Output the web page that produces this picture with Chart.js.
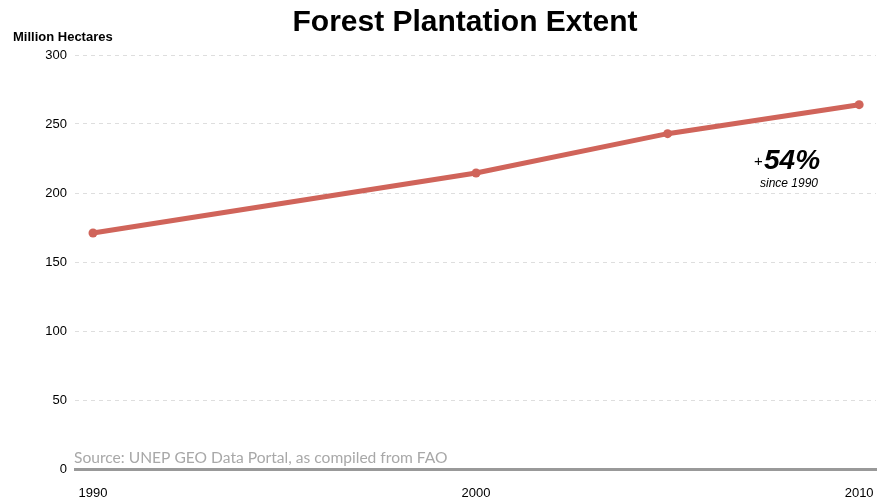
<!DOCTYPE html>
<html>
<head>
<meta charset="utf-8">
<script src="https://cdn.jsdelivr.net/npm/chart.js@4"></script>
<style>
  body { margin: 0; background: #fff; }
  #wrap { width: 883px; height: 499px; }
</style>
</head>
<body>
<div id="wrap"><canvas id="chart" width="883" height="499"></canvas></div>
<script>
// Daten
const years = [1990, 2000, 2005, 2010];
const hectares = [171, 214.5, 243, 264]; // Millionen Hektar
const xTickYears = [1990, 2000, 2010];
const yTickValues = [0, 50, 100, 150, 200, 250, 300];

const lineColor = '#d0645a';

// Texte, die direkt auf die Leinwand gezeichnet werden
const extraText = {
    id: 'extraText',
    afterDraw(chart) {
        const ctx = chart.ctx;
        const area = chart.chartArea;
        ctx.save();
        ctx.fillStyle = '#000';
        ctx.textAlign = 'center';
        ctx.textBaseline = 'alphabetic';
        ctx.font = 'bold 30px "Liberation Sans", Arial, sans-serif';
        ctx.fillText('Forest Plantation Extent', 465, 31);

        ctx.textAlign = 'left';
        ctx.font = 'bold 13px "Liberation Sans", Arial, sans-serif';
        ctx.fillText('Million Hectares', 13, 41);

        // +54% Anmerkung
        ctx.font = 'italic bold 28px "Liberation Sans", Arial, sans-serif';
        ctx.fillText('54%', 764, 169);
        ctx.font = '15px "Liberation Sans", Arial, sans-serif';
        ctx.fillText('+', 754, 166);
        ctx.textAlign = 'center';
        ctx.font = 'italic 12px "Liberation Sans", Arial, sans-serif';
        ctx.fillText('since 1990', 789, 187);

        // Quelle
        ctx.textAlign = 'left';
        ctx.fillStyle = '#a8a8a8';
        ctx.font = '15.6px Lato, "Open Sans", sans-serif';
        ctx.fillText('Source: UNEP GEO Data Portal, as compiled from FAO', area.left - 1, area.bottom - 6);
        ctx.restore();
    }
};

new Chart(document.getElementById('chart').getContext('2d'), {
    type: 'line',
    data: {
        datasets: [{
            label: 'Forest Plantation Extent',
            data: years.map((y, i) => ({ x: y, y: hectares[i] })),
            borderColor: lineColor,
            backgroundColor: lineColor,
            borderWidth: 5,
            pointRadius: 4.5,
            pointBorderWidth: 0,
            pointHoverRadius: 4.5,
            tension: 0
        }]
    },
    options: {
        responsive: false,
        animation: false,
        layout: { padding: { top: 55, right: 7, left: 0, bottom: 0 } },
        plugins: {
            legend: { display: false },
            title: { display: false },
            tooltip: { enabled: false }
        },
        scales: {
            x: {
                type: 'linear',
                min: 1989.53,
                max: 2010.44,
                afterBuildTicks(axis) {
                    axis.ticks = xTickYears.map(v => ({ value: v }));
                },
                afterFit(axis) {
                    axis.height = 30;
                    axis.paddingLeft = 0;
                    axis.paddingRight = 0;
                },
                grid: { display: false, drawTicks: false },
                border: { display: true, color: '#999', width: 3 },
                ticks: {
                    color: '#000',
                    padding: 17,
                    maxRotation: 0,
                    font: { family: '"Liberation Sans", Arial, sans-serif', size: 13 },
                    callback: v => String(v)
                }
            },
            y: {
                min: 0,
                max: 300,
                afterBuildTicks(axis) {
                    axis.ticks = yTickValues.map(v => ({ value: v }));
                },
                afterFit(axis) { axis.width = 75; },
                grid: {
                    color: ctx => ctx.tick && ctx.tick.value === 0 ? 'rgba(0,0,0,0)' : '#dedede',
                    lineWidth: 1,
                    drawTicks: false
                },
                border: { display: false, dash: [4, 4] },
                ticks: {
                    color: '#000',
                    padding: 8,
                    font: { family: '"Liberation Sans", Arial, sans-serif', size: 13 }
                }
            }
        }
    },
    plugins: [extraText]
});
</script>
</body>
</html>
